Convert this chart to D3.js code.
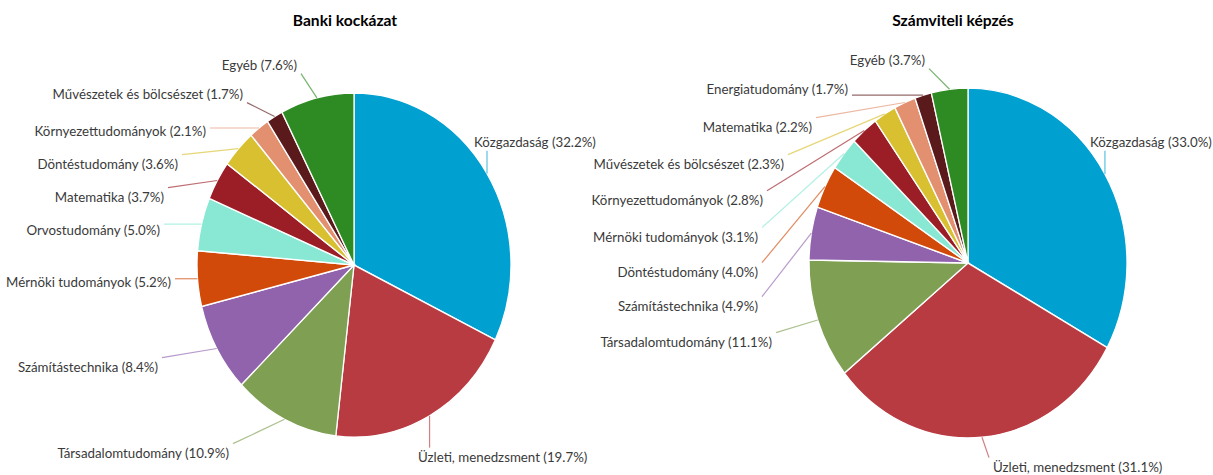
<!DOCTYPE html>
<html>
<head>
<meta charset="utf-8">
<script src="https://cdn.jsdelivr.net/npm/d3@7"></script>
<style>
  body { margin: 0; background: #fff; }
  .title { font-family: Lato, "Liberation Sans", sans-serif; font-weight: bold; font-size: 15.6px; fill: #000; }
  .label { font-family: Lato, "Liberation Sans", sans-serif; font-size: 13.3px; fill: #3a3a3a; }
</style>
</head>
<body>
<div id="chart"></div>
<script>
// Data
const bankTitle = 'Banki kockázat';
const bankCategories = ['Közgazdaság', 'Üzleti, menedzsment', 'Társadalomtudomány', 'Számítástechnika',
  'Mérnöki tudományok', 'Orvostudomány', 'Matematika', 'Döntéstudomány', 'Környezettudományok',
  'Művészetek és bölcsészet', 'Egyéb'];
const bankValues = [32.2, 19.7, 10.9, 8.4, 5.2, 5.0, 3.7, 3.6, 2.1, 1.7, 7.6];

const accTitle = 'Számviteli képzés';
const accCategories = ['Közgazdaság', 'Üzleti, menedzsment', 'Társadalomtudomány', 'Számítástechnika',
  'Döntéstudomány', 'Mérnöki tudományok', 'Környezettudományok', 'Művészetek és bölcsészet',
  'Matematika', 'Energiatudomány', 'Egyéb'];
const accValues = [33.0, 31.1, 11.1, 4.9, 4.0, 3.1, 2.8, 2.3, 2.2, 1.7, 3.7];

// slice colours go by position, like the office default palette
const palette = ['#00a0d0', '#b83b41', '#7f9f53', '#9163ad', '#d14a0a', '#89e8d3',
  '#9b1e26', '#d8c030', '#e2906f', '#5a1a1c', '#2e8a22'];

// Layout
const width = 1213;
const height = 475;

// label anchors: [anchor, x, y]
const bankLabelPos = [
  ['start', 474, 142], ['start', 418, 457], ['end', 229, 453], ['end', 158, 367],
  ['end', 171, 282], ['end', 160, 230], ['end', 164, 197], ['end', 178, 164],
  ['end', 206, 131], ['end', 243, 94], ['end', 297, 65]
];
const accLabelPos = [
  ['start', 1090, 142], ['start', 993, 467], ['end', 772, 342], ['end', 758, 306],
  ['end', 758, 272], ['end', 758, 237], ['end', 763, 200], ['end', 784, 164],
  ['end', 812, 127], ['end', 848, 89], ['end', 925, 60]
];

const svg = d3.select('#chart').append('svg')
    .attr('width', width)
    .attr('height', height)
    .attr('viewBox', [0, 0, width, height]);

function drawPie(opts) {
  const {title, titleX, cx, cy, r, sy, categories, values, labelPos} = opts;

  svg.append('text')
      .attr('class', 'title')
      .attr('x', titleX)
      .attr('y', 26)
      .attr('text-anchor', 'middle')
      .text(title);

  const pie = d3.pie().sort(null).value(d => d.value);
  const arcs = pie(categories.map((c, i) => ({name: c, value: values[i], i: i})));
  const arc = d3.arc().innerRadius(0).outerRadius(r);

  // the picture is a little taller than wide, so stretch vertically
  const g = svg.append('g')
      .attr('transform', `translate(${cx},${cy}) scale(1,${sy})`);

  g.selectAll('path')
      .data(arcs)
      .enter()
      .append('path')
      .attr('d', arc)
      .attr('fill', d => palette[d.data.i])
      .attr('stroke', '#fff')
      .attr('stroke-width', 1.3);

  const labels = svg.append('g');
  arcs.forEach((d, i) => {
    const [anchor, lx, ly] = labelPos[i];
    const t = labels.append('text')
        .attr('class', 'label')
        .attr('x', lx)
        .attr('y', ly)
        .attr('dy', '0.35em')
        .attr('text-anchor', anchor)
        .text(`${d.data.name} (${d3.format('.1f')(d.data.value)}%)`);

    // point on the rim at the middle of the slice
    const mid = (d.startAngle + d.endAngle) / 2;
    const px = cx + r * Math.sin(mid);
    const py = cy - r * Math.cos(mid) * sy;

    // nearest point of the label box
    const b = t.node().getBBox();
    const pad = 4;
    const qx = Math.max(b.x - pad, Math.min(px, b.x + b.width + pad));
    const qy = Math.max(b.y - 1, Math.min(py, b.y + b.height + 1));

    labels.append('line')
        .attr('x1', qx).attr('y1', qy)
        .attr('x2', px).attr('y2', py)
        .attr('stroke', palette[d.data.i])
        .attr('stroke-opacity', 0.65)
        .attr('stroke-width', 1.2);
  });
}

drawPie({title: bankTitle, titleX: 345, cx: 354, cy: 265, r: 157, sy: 1.096,
  categories: bankCategories, values: bankValues, labelPos: bankLabelPos});

drawPie({title: accTitle, titleX: 953, cx: 968, cy: 263, r: 159, sy: 1.10,
  categories: accCategories, values: accValues, labelPos: accLabelPos});
</script>
</body>
</html>
